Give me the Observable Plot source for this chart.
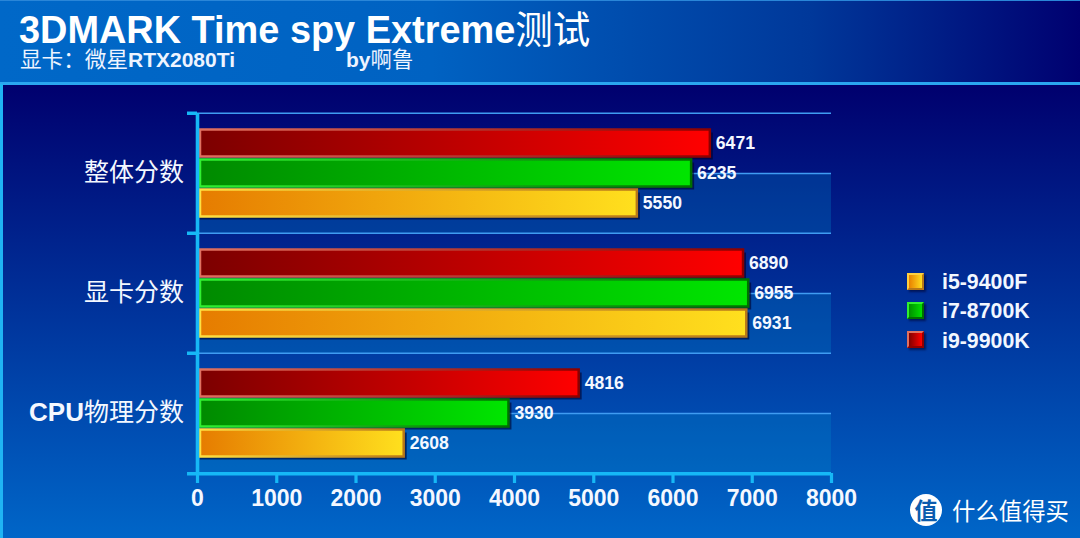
<!DOCTYPE html>
<html><head><meta charset="utf-8">
<script src="https://cdn.jsdelivr.net/npm/d3@7"></script>
<script src="https://cdn.jsdelivr.net/npm/@observablehq/plot@0.6"></script>
<style>
html,body{margin:0;padding:0;background:#00006e}
#page{position:relative;width:1080px;height:538px;overflow:hidden;background:linear-gradient(180deg,#00006e 85px,#0066c8 100%);font-family:"Liberation Sans",Arial,sans-serif;color:#fff}
#hdr{position:relative;height:82px;border-bottom:3px solid #2aa6f0;box-sizing:content-box;background:linear-gradient(90deg,#0068c8 0%,#0062c2 40%,#00389a 75%,#000070 100%);box-shadow:inset 0 1px 0 #2a86d8}
#ttl{position:absolute;left:19px;top:8px;font-size:37.9px;font-weight:bold;line-height:38px;white-space:nowrap}
#ttl span{font-family:"Noto Sans CJK SC";font-weight:400;font-size:37.5px}
.sub{position:absolute;top:46px;font-size:21px;font-weight:bold;line-height:24px;white-space:nowrap;color:#eef4ff}
.sub span{font-family:"Noto Sans CJK SC";font-weight:400;font-size:21.6px}
#edge{position:absolute;left:0;top:84px;width:2.5px;height:454px;background:#1fb4f4}
svg{display:block;background:transparent!important}
.leg{position:absolute;left:907px;width:17px;height:17px;box-sizing:border-box;border:2.5px solid;box-shadow:2px 2px 2px rgba(0,0,40,.55)}
.legt{position:absolute;left:942px;font-size:21.3px;font-weight:bold;line-height:22px;white-space:nowrap;color:#f2f7ff}
#wm{position:absolute;left:952px;top:495px;font:400 23.4px/30px "Noto Sans CJK SC";white-space:nowrap;color:#fff}
#wmc{position:absolute;left:910px;top:494px;width:32px;height:32px;border-radius:50%;background:#fff;color:#0b5cae;font:700 23px/31px "Noto Sans CJK SC";text-align:center}
g[aria-label="bar-shadow"]{filter:blur(1.5px)}
</style></head><body>
<div id="page">
<div id="hdr">
<div id="ttl">3DMARK Time spy Extreme<span>测试</span></div>
<div class="sub" style="left:20px"><span>显卡：微星</span>RTX2080Ti</div>
<div class="sub" style="left:346px">by<span>啊鲁</span></div>
</div>
<div id="edge"></div>
<div id="chart"></div>
<div class="leg" style="top:273px;background:linear-gradient(90deg,#e88000,#ffdc1e);border-color:#ffd040 #b87818 #b87818 #ffd040"></div>
<div class="legt" style="top:271px">i5-9400F</div>
<div class="leg" style="top:302px;background:linear-gradient(90deg,#009000,#00e000);border-color:#30f030 #007000 #007000 #30f030"></div>
<div class="legt" style="top:300px">i7-8700K</div>
<div class="leg" style="top:331px;background:linear-gradient(90deg,#800000,#ff0000);border-color:#e07060 #900000 #900000 #e07060"></div>
<div class="legt" style="top:330px">i9-9900K</div>
<div id="wmc">值</div><div id="wm">什么值得买</div>
</div>
<script>
const categories = ["整体分数", "显卡分数", "CPU物理分数"];
const seriesNames = ["i9-9900K", "i7-8700K", "i5-9400F"];
const i9Values = [6471, 6890, 4816];
const i7Values = [6235, 6955, 3930];
const i5Values = [5550, 6931, 2608];
const xTicks = [0, 1000, 2000, 3000, 4000, 5000, 6000, 7000, 8000];

const seriesValues = [i9Values, i7Values, i5Values];
const rows = seriesNames.flatMap((s, si) =>
  categories.map((c, ci) => ({category: c, series: s, value: seriesValues[si][ci], si})));

const cyan = "#16b8f6", gridC = "#3f9cf2";
const fills = ["url(#f0)", "url(#f1)", "url(#f2)"];
const strokes = ["url(#s0)", "url(#s1)", "url(#s2)"];
const font = '"Liberation Sans",Arial,sans-serif';
const mid = () => seriesNames[1];
const halfBand = 60.2;

function defs() {
  const ns = "http://www.w3.org/2000/svg";
  const d = document.createElementNS(ns, "defs");
  const grads = {
    f0: ["#7c0000", "#ff0000"], s0: ["#e07060", "#8c0000"],
    f1: ["#008a00", "#00e600"], s1: ["#30f030", "#007000"],
    f2: ["#e67c00", "#ffe01e"], s2: ["#ffe040", "#b87818"]
  };
  for (const [id, [a, b]] of Object.entries(grads)) {
    const g = document.createElementNS(ns, "linearGradient");
    g.setAttribute("id", id);
    [[0, a], [1, b]].forEach(([o, c]) => {
      const st = document.createElementNS(ns, "stop");
      st.setAttribute("offset", o); st.setAttribute("stop-color", c);
      g.appendChild(st);
    });
    d.appendChild(g);
  }
  return d;
}

const chart = Plot.plot({
  width: 1080, height: 453,
  marginLeft: 197, marginRight: 249, marginTop: 27, marginBottom: 65,
  style: {background: "transparent", color: "#fff", fontFamily: font, overflow: "visible"},
  x: {domain: [0, 8000], label: null},
  y: {domain: seriesNames, paddingInner: 0, paddingOuter: 0.5, axis: null, label: null},
  fy: {domain: categories, padding: 0, label: null, axis: null},
  marks: [
    defs,
    // lighter lower half of each band
    Plot.rectX(categories, {fy: d => d, x1: 0, x2: 8000, insetTop: 60, fill: "#0088c8", fillOpacity: 0.28}),
    // horizontal grid lines: band tops and middles
    Plot.ruleY(categories, {fy: d => d, y: mid, x1: 0, x2: 8000, stroke: gridC, strokeWidth: 1.5}),
    Plot.ruleY(categories, {fy: d => d, y: mid, dy: -halfBand, x1: 0, x2: 8000, stroke: gridC, strokeWidth: 1.5}),
    Plot.barX(rows, {fy: "category", y: "series", x1: 0, x2: "value", dx: 3, dy: 3, insetTop: 1.5, insetBottom: 1.5, fill: "#00002a", fillOpacity: 0.6, ariaLabel: "bar-shadow"}),
    Plot.barX(rows, {fy: "category", y: "series", x1: 0, x2: "value", insetLeft: 3, insetTop: 1.5, insetBottom: 1.5,
      fill: {value: d => fills[d.si], scale: null}, stroke: {value: d => strokes[d.si], scale: null}, strokeWidth: 2.5}),
    Plot.text(rows, {fy: "category", y: "series", x: "value", text: d => String(d.value), textAnchor: "start", dx: 5.5, dy: -0.5,
      fill: "#f4f8ff", fontSize: 17.6, fontWeight: "bold", fontFamily: font}),
    // axes
    Plot.ruleX([0], {stroke: cyan, strokeWidth: 3.6}),
    Plot.ruleY(categories.slice(-1), {fy: d => d, y: mid, dy: halfBand, x1: -126, x2: 8000, stroke: cyan, strokeWidth: 3.6}),
    Plot.axisFy(categories, {anchor: "left", tickSize: 10, dy: -halfBand, stroke: cyan, strokeWidth: 3, tickFormat: () => "", label: null}),
    Plot.axisFy({anchor: "left", tickSize: 0, tickPadding: 13.5, dy: -0.8, fontSize: 25, fontFamily: '"Noto Sans CJK SC"', fill: "#f4f8ff", label: null}),
    Plot.axisX(xTicks, {anchor: "bottom", tickSize: 10, tickPadding: 6.5, stroke: cyan, strokeWidth: 3.2, fontSize: 23, fontWeight: "bold", fontFamily: font, fill: "#f4f8ff", label: null, tickFormat: d => String(d)})
  ]
});
document.getElementById("chart").appendChild(chart);
// Latin letters of the axis labels are bold in the original
chart.querySelectorAll("text").forEach(t => {
  const n = t.querySelector("tspan") || t;
  if (n.textContent.startsWith("CPU")) {
    const rest = n.textContent.slice(3);
    n.textContent = "";
    const mk = (s, w, f, z) => { const e = document.createElementNS("http://www.w3.org/2000/svg", "tspan"); e.textContent = s; e.setAttribute("font-weight", w); e.setAttribute("font-family", f); if (z) e.setAttribute("font-size", z); n.appendChild(e); };
    mk("CPU", "bold", font, 26); mk(rest, "normal", '"Noto Sans CJK SC"');
  }
});
</script>
</body></html>
